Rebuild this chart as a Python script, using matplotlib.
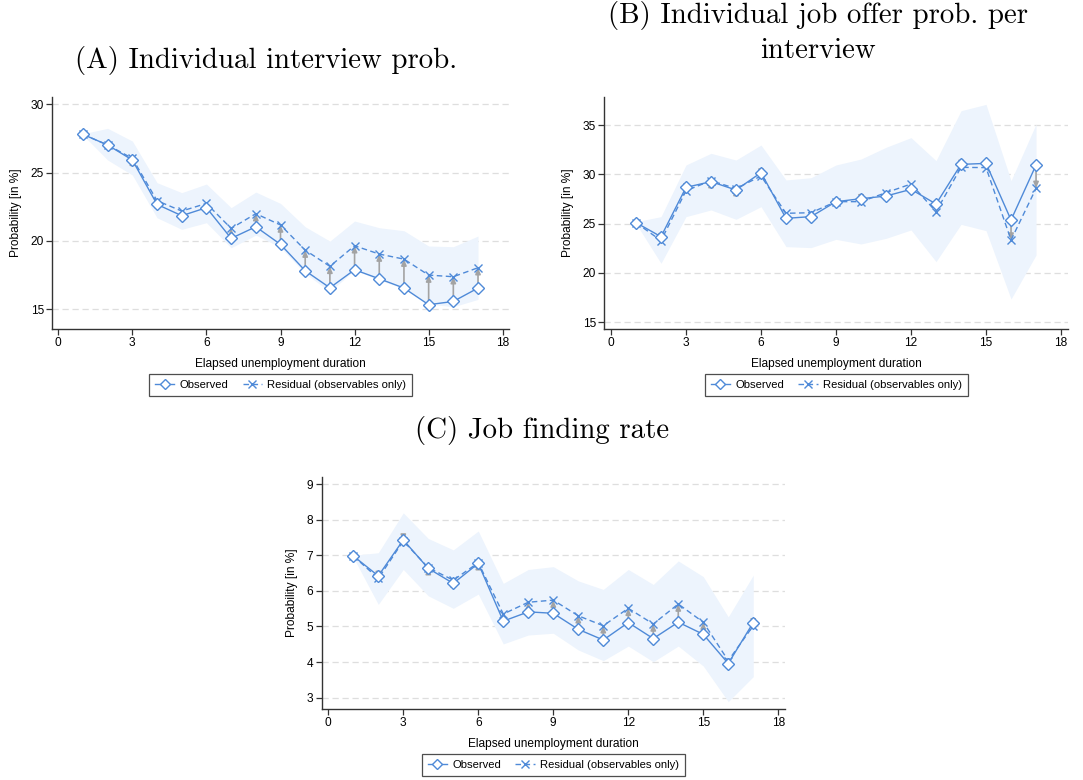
import matplotlib
matplotlib.use("Agg")
import matplotlib.pyplot as plt
import numpy as np

# ---------------- data ----------------
months = np.arange(1, 18)

# (A) Individual interview probability
a_obs = [27.80, 27.02, 25.92, 22.67, 21.84, 22.43, 20.18, 21.03, 19.74,
         17.81, 16.56, 17.88, 17.22, 16.54, 15.32, 15.56, 16.54]
a_res = [27.80, 27.02, 26.04, 22.94, 22.18, 22.74, 20.91, 21.99, 21.16,
         19.32, 18.13, 19.64, 19.03, 18.66, 17.49, 17.37, 18.03]
a_hi = [27.85, 28.24, 27.31, 24.26, 23.53, 24.16, 22.43, 23.57, 22.74,
        21.03, 19.98, 21.45, 20.96, 20.74, 19.62, 19.57, 20.35]
a_lo = [27.75, 25.92, 24.82, 21.69, 20.84, 21.33, 19.49, 20.42, 19.52,
        17.61, 16.27, 17.86, 17.12, 16.51, 15.37, 15.17, 15.71]

# (B) Individual job offer probability per interview
b_obs = [25.10, 23.68, 28.68, 29.26, 28.41, 30.17, 25.54, 25.71, 27.23,
         27.53, 27.80, 28.48, 26.99, 31.01, 31.11, 25.37, 30.95]
b_res = [25.10, 23.28, 28.34, 29.36, 28.55, 29.83, 26.05, 26.11, 27.23,
         27.23, 28.14, 29.02, 26.22, 30.71, 30.68, 23.34, 28.58]
b_hi = [25.20, 25.71, 30.95, 32.13, 31.45, 32.97, 29.43, 29.66, 30.95,
        31.55, 32.74, 33.72, 31.39, 36.45, 37.09, 29.36, 35.10]
b_lo = [25.00, 20.98, 25.71, 26.39, 25.44, 26.72, 22.67, 22.57, 23.41,
        22.94, 23.51, 24.36, 21.15, 24.93, 24.29, 17.36, 21.82]

# (C) Job finding rate
c_obs = [6.98, 6.42, 7.43, 6.63, 6.21, 6.77, 5.15, 5.41, 5.37,
         4.92, 4.62, 5.11, 4.66, 5.12, 4.78, 3.96, 5.11]
c_res = [6.98, 6.35, 7.40, 6.65, 6.30, 6.79, 5.35, 5.68, 5.74,
         5.30, 5.02, 5.51, 5.07, 5.63, 5.12, 4.04, 5.02]
c_hi = [7.00, 7.07, 8.19, 7.47, 7.15, 7.68, 6.21, 6.60, 6.68,
        6.28, 6.04, 6.60, 6.18, 6.84, 6.40, 5.27, 6.44]
c_lo = [6.94, 5.62, 6.60, 5.86, 5.51, 5.91, 4.51, 4.76, 4.81,
        4.34, 4.04, 4.45, 4.01, 4.45, 3.89, 2.89, 3.59]

x_ticks = [0, 3, 6, 9, 12, 15, 18]
a_yticks = [15, 20, 25, 30]
b_yticks = [15, 20, 25, 30, 35]
c_yticks = [3, 4, 5, 6, 7, 8, 9]

titles = ["(A) Individual interview prob.",
          "(B) Individual job offer prob. per\ninterview",
          "(C) Job finding rate"]

# ---------------- style ----------------
LINE = "#4f8ad8"
BAND = "#edf4fd"
ARROW = "#a3a3a3"
GRID = "#dedede"
SANS = ["Liberation Sans", "DejaVu Sans"]
SERIF = ["cmr10", "DejaVu Serif"]
FS = 8.6
LFS = 8.1

plt.rcParams["font.family"] = SANS
plt.rcParams["axes.unicode_minus"] = False

fig = plt.figure(figsize=(10.83, 7.80), dpi=100)
W, H = 1083.0, 780.0


def make_axes(left, right, top, bottom):
    return fig.add_axes([left / W, 1 - bottom / H, (right - left) / W, (bottom - top) / H])


def panel(ax, obs, res, hi, lo, xlim, ylim, yticks):
    ax.fill_between(months, lo, hi, color=BAND, lw=0, zorder=1)
    for yt in yticks:
        ax.axhline(yt, color=GRID, lw=0.9, ls=(0, (5, 3)), zorder=0.5)
    for xi, o, r in zip(months, obs, res):
        if abs(r - o) > 0.02:
            ax.annotate("", xy=(xi, r), xytext=(xi, o),
                        arrowprops=dict(arrowstyle="-|>,head_length=0.35,head_width=0.15",
                                        color=ARROW, lw=1.2, shrinkA=0, shrinkB=0),
                        zorder=2)
    l1, = ax.plot(months, obs, color=LINE, lw=1.0, marker="D", ms=6.0,
                  mfc="white", mec=LINE, mew=1.0, zorder=4, label="Observed")
    l2, = ax.plot(months, res, color=LINE, lw=1.0, ls=(0, (4, 2.5)), marker="x",
                  ms=6, mec=LINE, mew=1.0, zorder=3,
                  label="Residual (observables only)")
    ax.set_xlim(*xlim)
    ax.set_ylim(*ylim)
    ax.set_xticks(x_ticks)
    ax.set_yticks(yticks)
    for s in ("top", "right"):
        ax.spines[s].set_visible(False)
    for s in ("left", "bottom"):
        ax.spines[s].set_color("#333333")
        ax.spines[s].set_linewidth(1.0)
    ax.tick_params(axis="both", length=4, width=0.9, color="#333333",
                   labelsize=FS, pad=2)
    ax.set_xlabel("Elapsed unemployment duration", fontsize=FS, labelpad=6)
    ax.set_ylabel("Probability [in %]", fontsize=FS, labelpad=6)
    return l1, l2


def legend(ax, handles, cx, top_px):
    leg = fig.legend(handles=handles, loc="upper center",
                     bbox_to_anchor=(cx / W, 1 - top_px / H), ncol=2,
                     fontsize=LFS, frameon=True, fancybox=False,
                     edgecolor="#222222", handlelength=1.7, handletextpad=0.45,
                     columnspacing=1.3, borderpad=0.55, borderaxespad=0,
                     markerscale=0.85)
    leg.get_frame().set_linewidth(0.9)


# Panel A
axA = make_axes(52.3, 509.0, 96.7, 329.0)
h = panel(axA, a_obs, a_res, a_hi, a_lo, (-0.243, 18.255), (13.54, 30.56), a_yticks)
legend(axA, h, 280.5, 374)

# Panel B
axB = make_axes(604.3, 1068.3, 97.3, 329.0)
h = panel(axB, b_obs, b_res, b_hi, b_lo, (-0.268, 18.29), (14.32, 37.81), b_yticks)
legend(axB, h, 836.3, 374)

# Panel C
axC = make_axes(321.7, 785.0, 476.7, 709.0)
h = panel(axC, c_obs, c_res, c_hi, c_lo, (-0.264, 18.27), (2.683, 9.205), c_yticks)
legend(axC, h, 553.3, 754)

# Panel titles
TFS = 20.8
fig.text(266 / W, 1 - 68 / H, titles[0], ha="center", va="baseline",
         fontsize=TFS, family=SERIF)
fig.text(818 / W, 1 - 58 / H, titles[1], ha="center", va="baseline",
         fontsize=TFS, family=SERIF, linespacing=1.38, multialignment="center")
fig.text(542.5 / W, 1 - 438 / H, titles[2], ha="center", va="baseline",
         fontsize=TFS, family=SERIF)

fig.savefig("out.png", dpi=100, facecolor="white")
